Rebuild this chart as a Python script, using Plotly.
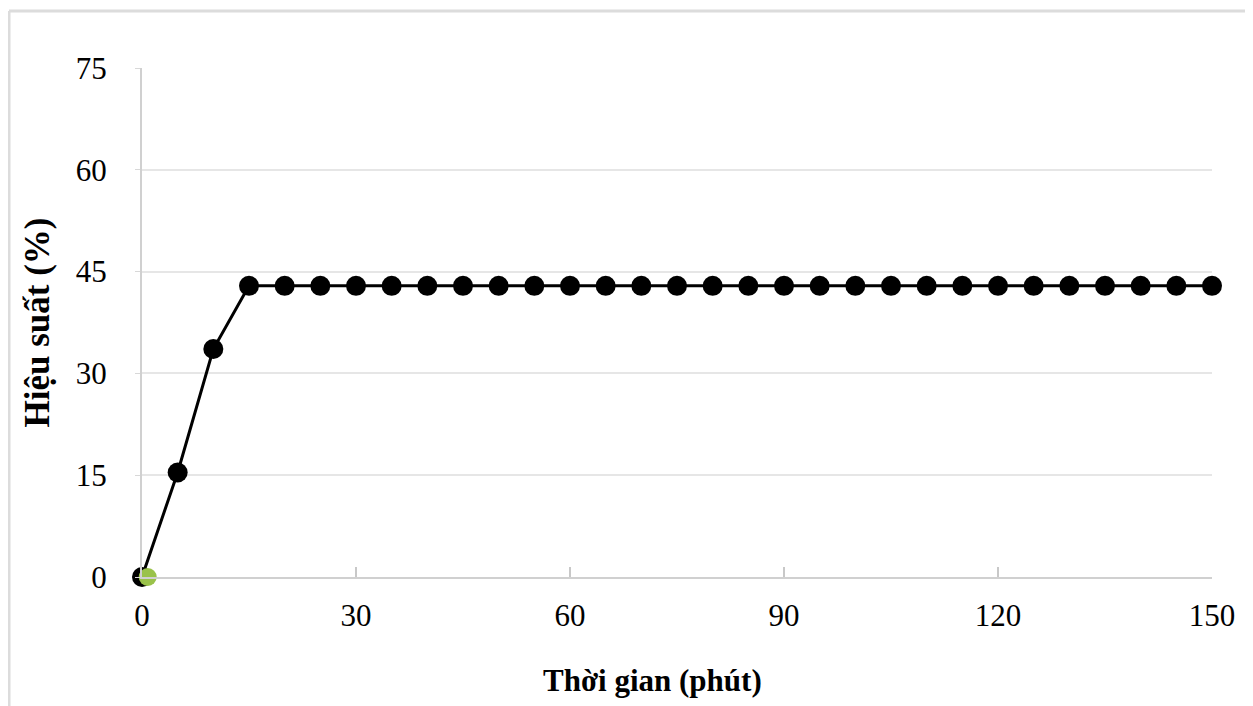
import plotly.graph_objects as go

time_min = [0, 5, 10, 15, 20, 25, 30, 35, 40, 45, 50, 55, 60, 65, 70, 75, 80, 85, 90,
            95, 100, 105, 110, 115, 120, 125, 130, 135, 140, 145, 150]
efficiency = [0, 15.4, 33.6, 42.9] + [42.9] * 27
start_purple_x = [-0.2]
start_purple_y = [0]
start_green_x = [0.8]
start_green_y = [0]
x_ticks = [0, 30, 60, 90, 120, 150]
y_ticks = [0, 15, 30, 45, 60, 75]

fig = go.Figure()
fig.add_trace(go.Scatter(
    x=time_min, y=efficiency, mode="lines+markers",
    line=dict(color="black", width=3),
    marker=dict(color="black", size=20),
    showlegend=False, cliponaxis=False))
fig.add_trace(go.Scatter(
    x=start_purple_x, y=start_purple_y, mode="markers",
    marker=dict(color="#3a1f5c", size=18), showlegend=False, cliponaxis=False))
fig.add_trace(go.Scatter(
    x=start_green_x, y=start_green_y, mode="markers",
    marker=dict(color="#9ac24a", size=18), showlegend=False, cliponaxis=False))

font_family = "Liberation Serif"
# page body adds an 8px offset, so margins are shifted accordingly
L, T = 134, 60
W_plot, H_plot = 1070, 509
fig.update_layout(
    width=1253, height=706,
    margin=dict(l=L, r=1253 - L - W_plot, t=T, b=706 - T - H_plot),
    paper_bgcolor="white", plot_bgcolor="white",
    font=dict(family=font_family, color="black"),
    xaxis=dict(
        range=[0, 150], tickvals=x_ticks, ticks="inside", ticklen=10,
        tickcolor="#c8c8c8", tickwidth=1.5,
        showline=True, linecolor="#d0d0d0", linewidth=2,
        showgrid=False, zeroline=False,
        tickfont=dict(size=31, family=font_family), ticklabelstandoff=10,
    ),
    yaxis=dict(
        range=[0, 75], tickvals=y_ticks, ticks="outside", ticklen=5,
        tickcolor="#d8d8d8",
        showline=True, linecolor="#d0d0d0", linewidth=2,
        showgrid=True, gridcolor="#e6e6e6", gridwidth=1.5, zeroline=False,
        tickfont=dict(size=31, family=font_family), ticklabelstandoff=22,
        title=dict(text="<b>Hiệu suất (%)</b>",
                   font=dict(size=35, family=font_family), standoff=16),
    ),
    annotations=[dict(text="<b>Thời gian (phút)</b>", xref="paper", yref="paper",
                      x=(652 - 8 - L) / W_plot, y=(T + H_plot - (680 - 8)) / H_plot,
                      xanchor="center", yanchor="middle", showarrow=False,
                      font=dict(size=31, family=font_family, color="black"))],
    shapes=[dict(type="line", xref="paper", yref="paper",
                 x0=(1 - L) / W_plot, x1=1.1, y0=(T + H_plot - 3) / H_plot, y1=(T + H_plot - 3) / H_plot,
                 line=dict(color="#dcdcdc", width=3)),
            dict(type="line", xref="paper", yref="paper",
                 x0=(1 - L) / W_plot, x1=(1 - L) / W_plot, y0=(T + H_plot - 3) / H_plot, y1=-0.4,
                 line=dict(color="#dcdcdc", width=3))],
)
fig.write_html("out.html")
